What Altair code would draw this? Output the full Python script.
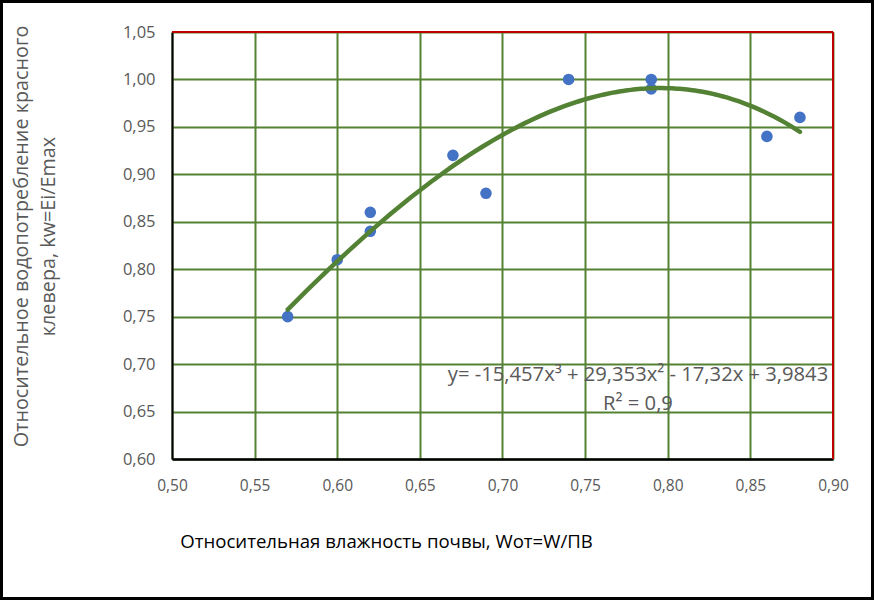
import altair as alt
import pandas as pd

# Data
wot = [0.57, 0.60, 0.62, 0.62, 0.67, 0.69, 0.74, 0.79, 0.79, 0.86, 0.88]
kw = [0.75, 0.81, 0.84, 0.86, 0.92, 0.88, 1.00, 1.00, 0.99, 0.94, 0.96]

x_ticks = [0.50, 0.55, 0.60, 0.65, 0.70, 0.75, 0.80, 0.85, 0.90]
y_ticks = [0.60, 0.65, 0.70, 0.75, 0.80, 0.85, 0.90, 0.95, 1.00, 1.05]

ann_text = ["y= -15,457x³ + 29,353x² - 17,32x + 3,9843", "R² = 0,9"]
ann_x = [0.782, 0.782]
ann_y = [0.6885, 0.658]

df = pd.DataFrame({"x": wot, "y": kw})
ann = pd.DataFrame({"x": ann_x, "y": ann_y, "t": ann_text})

FONT = "Open Sans"
GRAY = "#595959"
GREEN = "#548235"
RED = "#C00000"
W, H = 661, 427

xscale = alt.Scale(domain=[0.5, 0.9], nice=False, zero=False)
yscale = alt.Scale(domain=[0.6, 1.05], nice=False, zero=False)

xaxis = alt.Axis(
    values=x_ticks, format=".2f", labelExpr="replace(datum.label, '.', ',')",
    grid=True, gridColor=GREEN, gridWidth=2, ticks=False,
    domainColor="black", domainWidth=2.5, labelFlush=False,
    labelColor=GRAY, labelFont=FONT, labelFontSize=15.5, labelPadding=19,
    title="Относительная влажность почвы, Wот=W/ПВ",
    titleFont=FONT, titleFontSize=18.6, titleFontWeight="normal", titleColor="black",
    titleX=214, titleY=82, titleAlign="center", titleBaseline="middle",
)
yaxis = alt.Axis(
    values=y_ticks, format=".2f", labelExpr="replace(datum.label, '.', ',')",
    grid=True, gridColor=GREEN, gridWidth=2, ticks=False,
    domainColor="black", domainWidth=2, labelFlush=False,
    labelColor=GRAY, labelFont=FONT, labelFontSize=16.5, labelPadding=17,
    title=["Относительное водопотребление красного", "клевера, kw=Ei/Emax"],
    titleFont=FONT, titleFontSize=19.8, titleFontWeight="normal", titleColor=GRAY,
    titleAngle=270, titleX=-151, titleY=204, titleAlign="center",
    titleBaseline="middle", titleLineHeight=27,
)

base = alt.Chart(df)

points = base.mark_circle(size=135, color="#4472C4", opacity=1).encode(
    x=alt.X("x:Q", scale=xscale, axis=xaxis),
    y=alt.Y("y:Q", scale=yscale, axis=yaxis),
)

trend = base.transform_regression("x", "y", method="poly", order=3).mark_line(
    color=GREEN, strokeWidth=4.5, strokeCap="round"
).encode(
    x=alt.X("x:Q", scale=xscale),
    y=alt.Y("y:Q", scale=yscale),
)

labels = alt.Chart(ann).mark_text(
    font=FONT, fontSize=20.2, color=GRAY, align="center", baseline="middle"
).encode(
    x=alt.X("x:Q", scale=xscale),
    y=alt.Y("y:Q", scale=yscale),
    text="t:N",
)

top_border = alt.Chart(df).mark_rule(color=RED, strokeWidth=2).encode(
    x=alt.value(0), x2=alt.value(W), y=alt.value(0)
)
right_border = alt.Chart(df).mark_rule(color=RED, strokeWidth=2).encode(
    x=alt.value(W), y=alt.value(0), y2=alt.value(H)
)

frame = alt.Chart(df).mark_rect(
    fill=None, stroke="black", strokeWidth=2.5, clip=False
).encode(
    x=alt.value(-170.8), x2=alt.value(700.8),
    y=alt.value(-30.8), y2=alt.value(566.8),
)

chart = alt.layer(points, trend, labels, top_border, right_border, frame).properties(
    width=W, height=H,
    autosize=alt.AutoSizeParams(type="none"),
    padding={"left": 172, "top": 32, "right": 41, "bottom": 141},
).configure_view(
    stroke=None
).configure(background="white")

chart.save("out.html", embed_options={"renderer": "svg", "actions": False})
